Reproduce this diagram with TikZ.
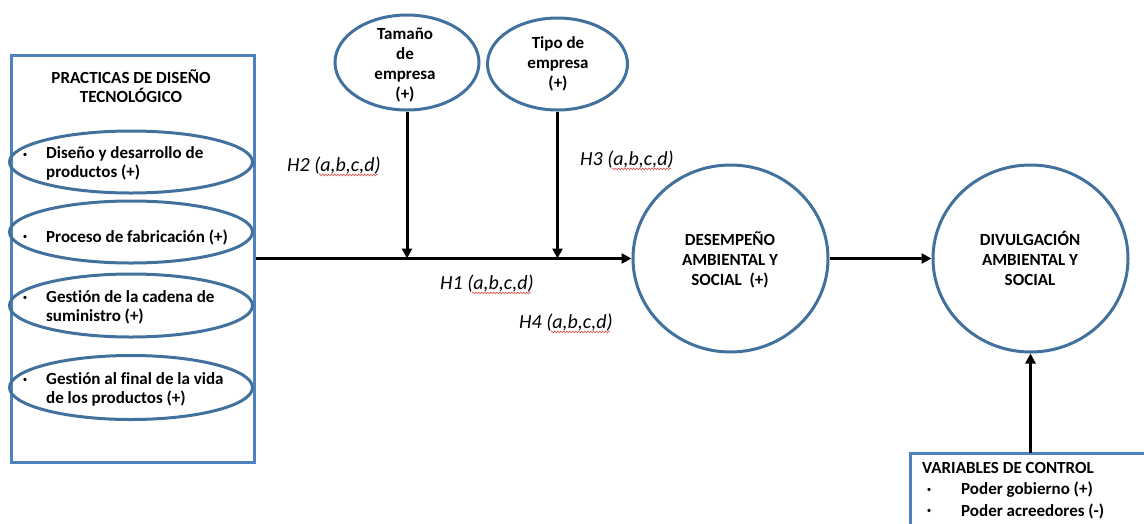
\documentclass[tikz,border=0pt]{standalone}
\usepackage{fontspec}
\setmainfont{Carlito}[Ligatures=CommonOff]
\usetikzlibrary{arrows.meta,shapes.geometric,decorations.pathmorphing}
\definecolor{boxblue}{HTML}{4F81BD}
\definecolor{ellblue}{HTML}{41719C}
\definecolor{squig}{HTML}{E05050}
\begin{document}
\begin{tikzpicture}[x=1pt,y=-1pt,
  txt/.style={font=\fontsize{17}{20}\selectfont\bfseries, inner sep=0pt, align=center},
  ltxt/.style={font=\fontsize{17}{19}\selectfont\bfseries, inner sep=0pt, align=left, anchor=west},
  htxt/.style={font=\fontsize{20}{22}\selectfont\itshape, inner sep=0pt},
  bul/.style={font=\fontsize{9}{11}\selectfont, inner sep=0pt},
  oval/.style n args={2}{draw=ellblue, line width=3pt, ellipse, inner sep=0pt, minimum width=#1, minimum height=#2},
  rbox/.style={draw=boxblue, line width=3pt},
  arr/.style={line width=3pt, -{Triangle[length=10pt,width=10pt]}},
  wavy/.style={squig, line width=0.6pt, decorate, decoration={snake, amplitude=0.9pt, segment length=3pt}}
]
\useasboundingbox (0,0) rectangle (1144,523);

% left box
\node[rbox, minimum width=243pt, minimum height=407pt, inner sep=0pt] (prac) at (132.5,258.5) {};
\node[txt, font=\fontsize{17}{18.5}\selectfont\bfseries] (ptitle) at (131,86) {PRACTICAS DE DISEÑO\\TECNOLÓGICO};

\node[oval={243pt}{62pt}] (e1) at (131,162) {};
\node[oval={243pt}{62pt}] (e2) at (131,232) {};
\node[oval={243pt}{63pt}] (e3) at (131,305.5) {};
\node[oval={243pt}{64pt}] (e4) at (131,387.5) {};

\node[ltxt] (t1) at (46,163) {Diseño y desarrollo de\\productos (+)};
\node[ltxt] (t2) at (46,237) {Proceso de fabricación (+)};
\node[ltxt] (t3) at (46,307) {Gestión de la cadena de\\suministro (+)};
\node[ltxt] (t4) at (46,389) {Gestión al final de la vida\\de los productos (+)};
\node[bul] (b1) at (25,155) {•};
\node[bul] (b2) at (25,237) {•};
\node[bul] (b3) at (25,298) {•};
\node[bul] (b4) at (25,380) {•};

% top moderators
\node[oval={144pt}{95pt}] (tam) at (407,62.5) {};
\node[txt] at (405,64.5) {Tamaño\\de\\empresa\\(+)};
\node[oval={140pt}{92pt}] (tipo) at (557.5,64) {};
\node[txt] at (558,64) {Tipo de\\empresa\\(+)};

% circles
\node[oval={195pt}{187pt}] (des) at (730.5,258.5) {};
\node[txt] at (730,260) {DESEMPEÑO\\AMBIENTAL Y\\SOCIAL~~(+)};
\node[oval={195pt}{187pt}] (div) at (1030.5,258.5) {};
\node[txt] at (1030,258) {DIVULGACIÓN\\AMBIENTAL Y\\SOCIAL};

% arrows
\draw[arr] (prac.east) -- (des.west);
\draw[arr] (tam.south) -- (tam.south |- des.west);
\draw[arr] (tipo.south) -- (tipo.south |- des.west);
\draw[arr] (des.east) -- (div.west);

% control box
\coordinate (ctop) at (1030.5,453);
\draw[boxblue, line width=3pt] (1146,453) -- (910,453) -- (910,526);
\draw[arr] (ctop) -- (div.south);
\node[ltxt] (vc) at (922,468) {VARIABLES DE CONTROL};
\node[bul] (cb1) at (929,490) {•};
\node[bul] (cb2) at (929,511) {•};
\node[ltxt] (pg) at (961,490) {Poder gobierno (+)};
\node[ltxt] (pa) at (961,511) {Poder acreedores (-)};

% hypothesis labels
\node[htxt, anchor=west] (h2) at (287,166) {H2 (a,b,c,d)};
\node[htxt, anchor=west] (h3) at (580,160) {H3 (a,b,c,d)};
\node[htxt, anchor=west] (h1) at (440,284) {H1 (a,b,c,d)};
\node[htxt, anchor=west] (h4) at (519,323) {H4 (a,b,c,d)};
\foreach \h in {h1,h2,h3,h4}{
  \draw[wavy] ([xshift=-62pt,yshift=-3pt]\h.base east) -- ([xshift=-3pt,yshift=-3pt]\h.base east);
}
\end{tikzpicture}
\end{document}
